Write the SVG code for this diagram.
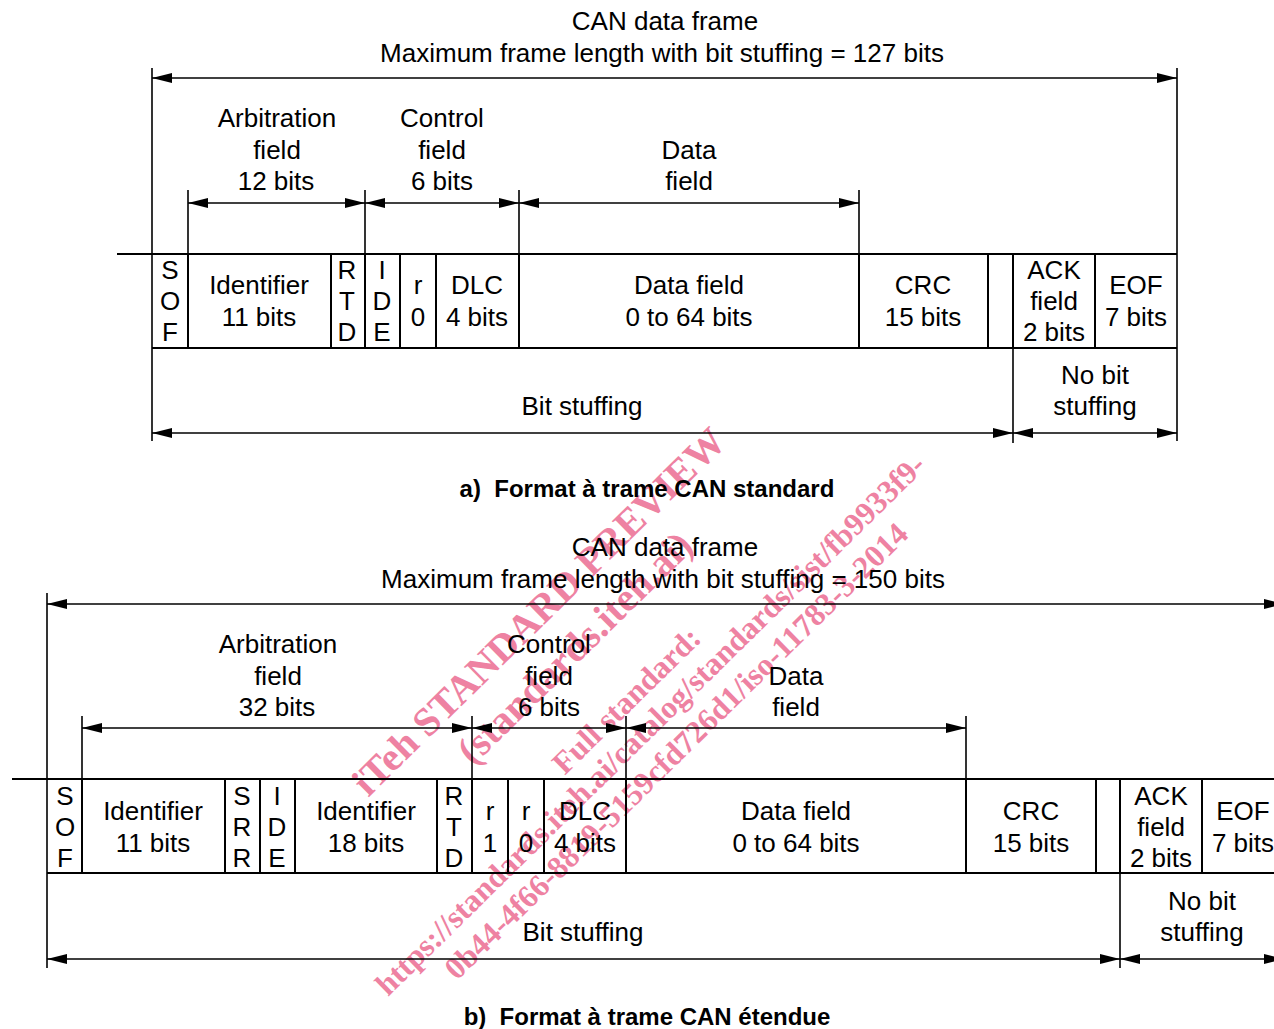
<svg xmlns="http://www.w3.org/2000/svg" width="1274" height="1029" viewBox="0 0 1274 1029">
<style>
text{font-family:"Liberation Sans",Arial,sans-serif;font-size:26px;fill:#000;text-anchor:middle}
text.cap{font-weight:bold;font-size:24px}
text.wm{font-family:"Liberation Serif","Times New Roman",serif;font-weight:bold;fill:#EE82A2;text-anchor:middle}
text.wl{font-size:40px}
text.ws{font-size:31.5px}
.div{stroke:#000;stroke-width:2}
.ext{stroke:#000;stroke-width:1.6}
.arr{stroke:#000;stroke-width:1.5;fill:none;marker-start:url(#ah);marker-end:url(#ah)}
</style>
<defs>
<marker id="ah" viewBox="0 0 20 10" refX="20" refY="5" markerWidth="20" markerHeight="10" markerUnits="userSpaceOnUse" orient="auto-start-reverse">
<path d="M0,0 L20,5 L0,10 z" fill="#000"/>
</marker>
</defs>
<rect width="1274" height="1029" fill="#fff"/>

<g id="watermark" transform="translate(626,700) rotate(-44.5)">
<text class="wm wl" x="0" y="-111">iTeh STANDARD PREVIEW</text>
<text class="wm wl" x="0" y="-60">(standards.iteh.ai)</text>
<text class="wm ws" x="0" y="11">Full standard:</text>
<text class="wm ws" x="0" y="45">https://standards.iteh.ai/catalog/standards/sist/fb9933f9-</text>
<text class="wm ws" x="0" y="82">0b44-4f66-8819-5159cfd726d1/iso-11783-3-2014</text>
</g>

<!-- ===== a) standard ===== -->
<g id="titleA">
<text x="665" y="30">CAN data frame</text>
<text x="662" y="62">Maximum frame length with bit stuffing = 127 bits</text>
</g>
<g id="labelsA">
<text x="277" y="127">Arbitration</text><text x="277" y="159">field</text><text x="276" y="190">12 bits</text>
<text x="442" y="127">Control</text><text x="442" y="159">field</text><text x="442" y="190">6 bits</text>
<text x="689" y="159">Data</text><text x="689" y="190">field</text>
</g>
<g id="frameA">
<line class="div" x1="117" y1="254" x2="1177" y2="254"/>
<line class="div" x1="152" y1="348" x2="1177" y2="348"/>
<line class="div" x1="188" y1="254" x2="188" y2="348"/>
<line class="div" x1="331" y1="254" x2="331" y2="348"/>
<line class="div" x1="365" y1="254" x2="365" y2="348"/>
<line class="div" x1="400" y1="254" x2="400" y2="348"/>
<line class="div" x1="436" y1="254" x2="436" y2="348"/>
<line class="div" x1="519" y1="254" x2="519" y2="348"/>
<line class="div" x1="859" y1="254" x2="859" y2="348"/>
<line class="div" x1="988" y1="254" x2="988" y2="348"/>
<line class="div" x1="1013" y1="254" x2="1013" y2="348"/>
<line class="div" x1="1095" y1="254" x2="1095" y2="348"/>
</g>
<g id="cellsA">
<text x="170" y="279">S</text><text x="170" y="310">O</text><text x="170" y="341">F</text>
<text x="259" y="294">Identifier</text><text x="259" y="326">11 bits</text>
<text x="347" y="279">R</text><text x="347" y="310">T</text><text x="347" y="341">D</text>
<text x="382" y="279">I</text><text x="382" y="310">D</text><text x="382" y="341">E</text>
<text x="418" y="294">r</text><text x="418" y="326">0</text>
<text x="477" y="294">DLC</text><text x="477" y="326">4 bits</text>
<text x="689" y="294">Data field</text><text x="689" y="326">0 to 64 bits</text>
<text x="923" y="294">CRC</text><text x="923" y="326">15 bits</text>
<text x="1054" y="279">ACK</text><text x="1054" y="310">field</text><text x="1054" y="341">2 bits</text>
<text x="1136" y="294">EOF</text><text x="1136" y="326">7 bits</text>
</g>
<g id="stuffA">
<text x="582" y="415">Bit stuffing</text>
<text x="1095" y="384">No bit</text><text x="1095" y="415">stuffing</text>
</g>
<g id="connectorsA">
<line class="ext" x1="152" y1="68" x2="152" y2="441"/>
<line class="ext" x1="1177" y1="68" x2="1177" y2="441"/>
<line class="ext" x1="188" y1="190" x2="188" y2="254"/>
<line class="ext" x1="365" y1="190" x2="365" y2="254"/>
<line class="ext" x1="519" y1="190" x2="519" y2="254"/>
<line class="ext" x1="859" y1="190" x2="859" y2="254"/>
<line class="ext" x1="1013" y1="348" x2="1013" y2="443"/>
<path class="arr" d="M152,78 H1177"/>
<path class="arr" d="M188,203 H365"/>
<path class="arr" d="M365,203 H519"/>
<path class="arr" d="M519,203 H859"/>
<path class="arr" d="M152,433 H1013"/>
<path class="arr" d="M1013,433 H1177"/>
</g>
<text class="cap" x="647" y="497" xml:space="preserve">a)  Format à trame CAN standard</text>

<!-- ===== b) extended ===== -->
<g id="titleB">
<text x="665" y="556">CAN data frame</text>
<text x="663" y="588">Maximum frame length with bit stuffing = 150 bits</text>
</g>
<g id="labelsB">
<text x="278" y="653">Arbitration</text><text x="278" y="685">field</text><text x="277" y="716">32 bits</text>
<text x="549" y="653">Control</text><text x="549" y="685">field</text><text x="549" y="716">6 bits</text>
<text x="796" y="685">Data</text><text x="796" y="716">field</text>
</g>
<g id="frameB">
<line class="div" x1="12" y1="779" x2="1284" y2="779"/>
<line class="div" x1="47" y1="873" x2="1284" y2="873"/>
<line class="div" x1="82" y1="779" x2="82" y2="873"/>
<line class="div" x1="225" y1="779" x2="225" y2="873"/>
<line class="div" x1="260" y1="779" x2="260" y2="873"/>
<line class="div" x1="295" y1="779" x2="295" y2="873"/>
<line class="div" x1="437" y1="779" x2="437" y2="873"/>
<line class="div" x1="472" y1="779" x2="472" y2="873"/>
<line class="div" x1="508" y1="779" x2="508" y2="873"/>
<line class="div" x1="544" y1="779" x2="544" y2="873"/>
<line class="div" x1="626" y1="779" x2="626" y2="873"/>
<line class="div" x1="966" y1="779" x2="966" y2="873"/>
<line class="div" x1="1096" y1="779" x2="1096" y2="873"/>
<line class="div" x1="1120" y1="779" x2="1120" y2="873"/>
<line class="div" x1="1202" y1="779" x2="1202" y2="873"/>
</g>
<g id="cellsB">
<text x="65" y="805">S</text><text x="65" y="836">O</text><text x="65" y="867">F</text>
<text x="153" y="820">Identifier</text><text x="153" y="852">11 bits</text>
<text x="242" y="805">S</text><text x="242" y="836">R</text><text x="242" y="867">R</text>
<text x="277" y="805">I</text><text x="277" y="836">D</text><text x="277" y="867">E</text>
<text x="366" y="820">Identifier</text><text x="366" y="852">18 bits</text>
<text x="454" y="805">R</text><text x="454" y="836">T</text><text x="454" y="867">D</text>
<text x="490" y="820">r</text><text x="490" y="852">1</text>
<text x="526" y="820">r</text><text x="526" y="852">0</text>
<text x="585" y="820">DLC</text><text x="585" y="852">4 bits</text>
<text x="796" y="820">Data field</text><text x="796" y="852">0 to 64 bits</text>
<text x="1031" y="820">CRC</text><text x="1031" y="852">15 bits</text>
<text x="1161" y="805">ACK</text><text x="1161" y="836">field</text><text x="1161" y="867">2 bits</text>
<text x="1243" y="820">EOF</text><text x="1243" y="852">7 bits</text>
</g>
<g id="stuffB">
<text x="583" y="941">Bit stuffing</text>
<text x="1202" y="910">No bit</text><text x="1202" y="941">stuffing</text>
</g>
<g id="connectorsB">
<line class="ext" x1="47" y1="593" x2="47" y2="968"/>
<line class="ext" x1="82" y1="716" x2="82" y2="779"/>
<line class="ext" x1="472" y1="716" x2="472" y2="779"/>
<line class="ext" x1="626" y1="716" x2="626" y2="779"/>
<line class="ext" x1="966" y1="716" x2="966" y2="779"/>
<line class="ext" x1="1120" y1="873" x2="1120" y2="968"/>
<path class="arr" d="M47,604 H1284"/>
<path class="arr" d="M82,728 H472"/>
<path class="arr" d="M472,728 H626"/>
<path class="arr" d="M626,728 H966"/>
<path class="arr" d="M47,959 H1120"/>
<path class="arr" d="M1120,959 H1284"/>
</g>
<text class="cap" x="647" y="1025" xml:space="preserve">b)  Format à trame CAN étendue</text>
</svg>
